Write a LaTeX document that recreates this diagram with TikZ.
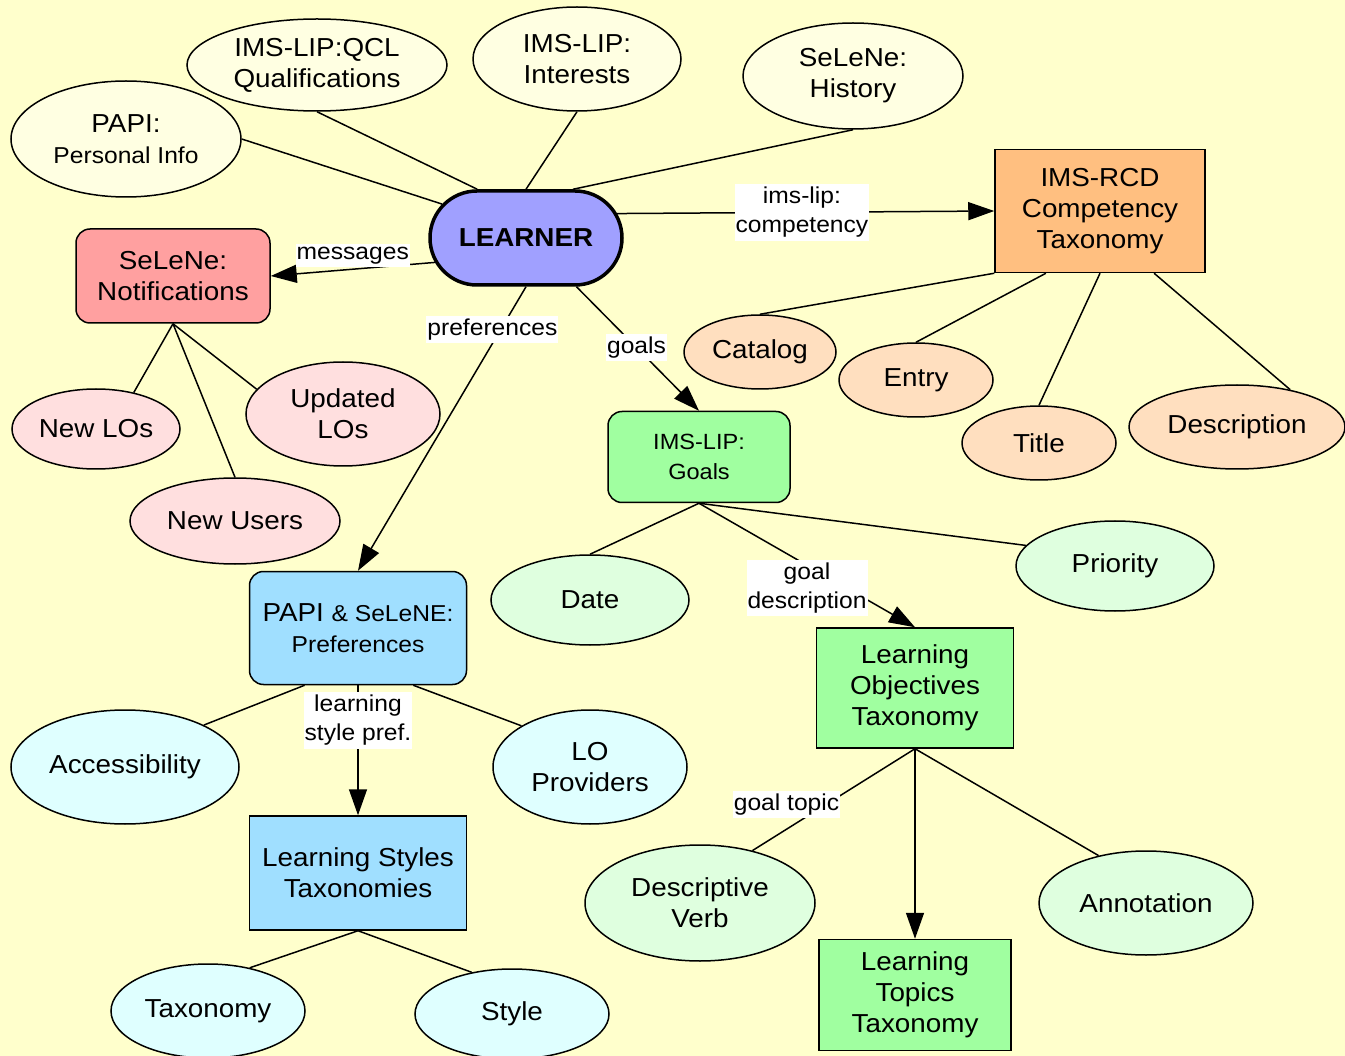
\documentclass[tikz,border=0pt]{standalone}
\usepackage{fontspec}
\setmainfont[FakeStretch=1.07]{Liberation Sans}
\usetikzlibrary{shapes.geometric,shapes.misc,arrows.meta}

\definecolor{bgcol}{HTML}{FFFFCC}
\definecolor{topfill}{HTML}{FFFFE2}
\definecolor{learnerfill}{HTML}{A0A0FF}
\definecolor{notiffill}{HTML}{FFA0A0}
\definecolor{pinkfill}{HTML}{FFDFDF}
\definecolor{rcdfill}{HTML}{FFBF80}
\definecolor{peachfill}{HTML}{FFDFBF}
\definecolor{greenfill}{HTML}{A0FFA0}
\definecolor{lgreenfill}{HTML}{DFFFDF}
\definecolor{bluefill}{HTML}{A0DFFF}
\definecolor{cyanfill}{HTML}{DFFFFF}

\newcommand\smtext{\fontsize{23}{30}\selectfont}

\tikzset{
  base/.style={draw=black, line width=1.5pt, font=\fontsize{26}{31}\selectfont,
               align=center, inner sep=0pt},
  ell/.style={base, ellipse},
  rbox/.style={base, rectangle, rounded corners=14pt},
  sbox/.style={base, rectangle},
  lbl/.style={fill=white, font=\fontsize{23}{29}\selectfont, inner xsep=1pt,
              inner ysep=3pt, align=center},
  link/.style={line width=1.5pt},
  arr/.style={link, -{Triangle[length=26pt,width=18pt]}},
}

\begin{document}
\begin{tikzpicture}[x=1pt, y=-1pt]
\useasboundingbox (0,0) rectangle (1345,1056);
\fill[bgcol] (0,0) rectangle (1345,1056);

% learner profile sources
\node[ell, fill=topfill, minimum width=230pt, minimum height=116pt] (papi) at (126,139)
  {PAPI:\\ \smtext Personal Info};
\node[ell, fill=topfill, minimum width=260pt, minimum height=92pt] (qcl) at (317,65)
  {IMS-LIP:QCL\\Qualifications};
\node[ell, fill=topfill, minimum width=208pt, minimum height=104pt] (int) at (577,59)
  {IMS-LIP:\\Interests};
\node[ell, fill=topfill, minimum width=220pt, minimum height=106pt] (hist) at (853,76)
  {SeLeNe:\\History};

% central learner node
\node[base, rounded rectangle, fill=learnerfill, line width=3.5pt,
      minimum width=192pt, minimum height=94pt, font=\fontsize{26}{31}\selectfont\bfseries]
  (learner) at (526,238) {LEARNER};

% notifications
\node[rbox, fill=notiffill, minimum width=194pt, minimum height=94pt] (notif) at (173,276)
  {SeLeNe:\\Notifications};
\node[ell, fill=pinkfill, minimum width=168pt, minimum height=80pt] (newlos) at (96,429)
  {New LOs};
\node[ell, fill=pinkfill, minimum width=194pt, minimum height=104pt] (updlos) at (343,414)
  {Updated\\LOs};
\node[ell, fill=pinkfill, minimum width=210pt, minimum height=86pt] (newusers) at (235,521)
  {New Users};

% competency taxonomy
\node[sbox, fill=rcdfill, minimum width=210pt, minimum height=123pt] (rcd) at (1100,211)
  {IMS-RCD\\Competency\\Taxonomy};
\node[ell, fill=peachfill, minimum width=152pt, minimum height=74pt] (catalog) at (760,352)
  {Catalog};
\node[ell, fill=peachfill, minimum width=154pt, minimum height=74pt] (entry) at (916,380)
  {Entry};
\node[ell, fill=peachfill, minimum width=154pt, minimum height=74pt] (title) at (1039,443)
  {Title};
\node[ell, fill=peachfill, minimum width=216pt, minimum height=84pt] (descr) at (1237,427)
  {Description};

% goals
\node[rbox, fill=greenfill, minimum width=182pt, minimum height=91pt,
      font=\fontsize{22}{30}\selectfont] (goals) at (699,457) {IMS-LIP:\\Goals};
\node[ell, fill=lgreenfill, minimum width=198pt, minimum height=90pt] (date) at (590,600)
  {Date};
\node[ell, fill=lgreenfill, minimum width=198pt, minimum height=90pt] (priority) at (1115,566)
  {Priority};
\node[sbox, fill=greenfill, minimum width=197pt, minimum height=120pt] (lot) at (915,688)
  {Learning\\Objectives\\Taxonomy};
\node[ell, fill=lgreenfill, minimum width=230pt, minimum height=116pt] (dverb) at (700,903)
  {Descriptive\\Verb};
\node[ell, fill=lgreenfill, minimum width=214pt, minimum height=104pt] (annot) at (1146,903)
  {Annotation};
\node[sbox, fill=greenfill, minimum width=192pt, minimum height=111pt] (ltt) at (915,995)
  {Learning\\Topics\\Taxonomy};

% preferences
\node[rbox, fill=bluefill, minimum width=217pt, minimum height=113pt] (prefs) at (358,628)
  {PAPI {\smtext\& SeLeNE:}\\ \smtext Preferences};
\node[ell, fill=cyanfill, minimum width=228pt, minimum height=114pt] (access) at (125,767)
  {Accessibility};
\node[ell, fill=cyanfill, minimum width=194pt, minimum height=114pt] (lop) at (590,767)
  {LO\\Providers};
\node[sbox, fill=bluefill, minimum width=217pt, minimum height=114pt] (lst) at (358,873)
  {Learning Styles\\Taxonomies};
\node[ell, fill=cyanfill, minimum width=194pt, minimum height=94pt] (taxo) at (208,1011)
  {Taxonomy};
\node[ell, fill=cyanfill, minimum width=194pt, minimum height=90pt] (style) at (512,1014)
  {Style};

% connectors into the learner
\draw[link] (papi.east) -- (learner.158);
\draw[link] (qcl.south) -- (learner.135);
\draw[link] (int.south) -- (learner.90);
\draw[link] (hist.south) -- (learner.46);

% connectors out of the learner
\draw[arr] (learner.15) -- node[lbl, pos=0.49] {ims-lip:\\competency} (rcd.west);
\draw[arr] (learner.195) -- node[lbl, pos=0.5, yshift=14pt] {messages} (notif.east);
\draw[arr] (learner.south) -- node[lbl, pos=0.2, yshift=14pt] {preferences} (prefs.north);
\draw[arr] (learner.-44) -- node[lbl, pos=0.49] {goals} (goals.north);

% notification kinds
\draw[link] (notif.south) -- (newlos.44);
\draw[link] (notif.south) -- (updlos.164);
\draw[link] (notif.south) -- (newusers.north);

% competency fields
\draw[link] (rcd.south west) -- (catalog.north);
\draw[link] (rcd.-131) -- (entry.north);
\draw[link] (rcd.south) -- (title.north);
\draw[link] (rcd.-49) -- (descr.35);

% goal fields
\draw[link] (goals.south) -- (date.north);
\draw[arr] (goals.south) -- node[lbl, pos=0.5, yshift=-23pt] {goal\\description} (lot.north);
\draw[link] (goals.south) -- (priority.167);

% objectives fields
\draw[link] (lot.south) -- node[lbl, pos=0.79, yshift=25pt] {goal topic} (dverb.45);
\draw[arr] (lot.south) -- (ltt.north);
\draw[link] (lot.south) -- (annot.135);

% preference fields
\draw[link] (prefs.-133) -- (access.28);
\draw[link] (prefs.-46) -- (lop.149);
\draw[arr] (prefs.south) -- node[lbl, pos=0.27] {learning\\style pref.} (lst.north);

% learning style fields
\draw[link] (lst.south) -- (taxo.46);
\draw[link] (lst.south) -- (style.134);
\end{tikzpicture}
\end{document}
